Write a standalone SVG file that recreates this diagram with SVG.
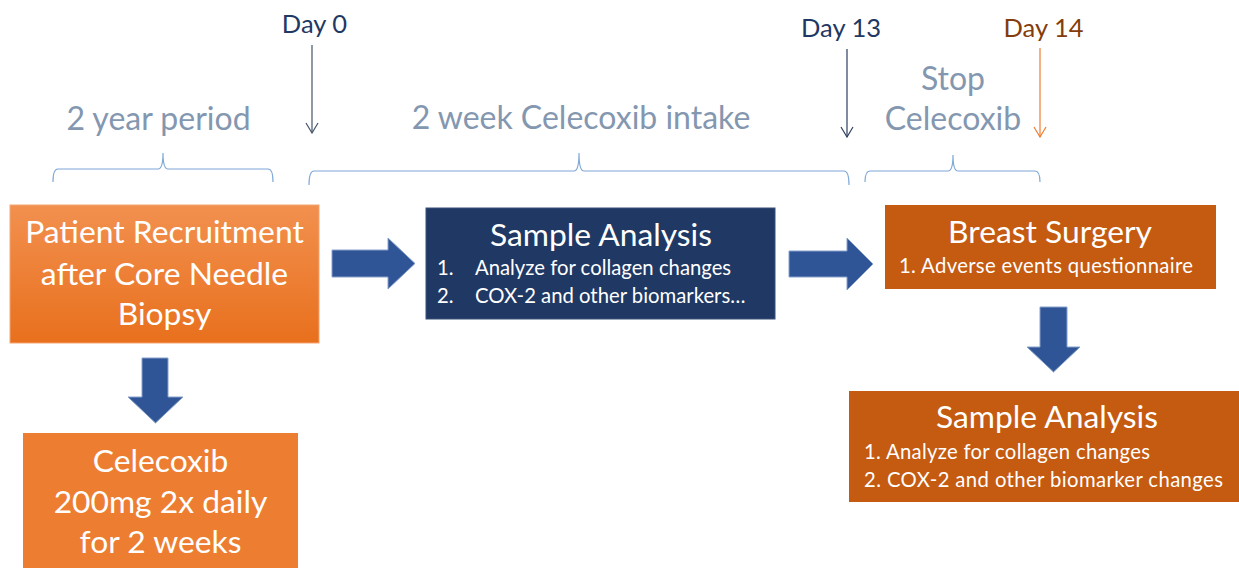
<svg xmlns="http://www.w3.org/2000/svg" width="1239" height="568" viewBox="0 0 1239 568">
<defs>
<linearGradient id="gOrange" x1="0" y1="0" x2="0" y2="1">
<stop offset="0" stop-color="#F2904F"/>
<stop offset="1" stop-color="#E8701D"/>
</linearGradient>
<marker id="mNavy" viewBox="0 0 12 14" refX="11" refY="7" markerWidth="12" markerHeight="14" markerUnits="userSpaceOnUse" orient="auto">
<path d="M1 1 L11 7 L1 13" fill="none" stroke="#44546A" stroke-width="1.2"/>
</marker>
<marker id="mDark" viewBox="0 0 12 14" refX="11" refY="7" markerWidth="12" markerHeight="14" markerUnits="userSpaceOnUse" orient="auto">
<path d="M1 1 L11 7 L1 13" fill="none" stroke="#2E3F60" stroke-width="1.2"/>
</marker>
<marker id="mOrange" viewBox="0 0 12 14" refX="11" refY="7" markerWidth="12" markerHeight="14" markerUnits="userSpaceOnUse" orient="auto">
<path d="M1 1 L11 7 L1 13" fill="none" stroke="#ED7D31" stroke-width="1.2"/>
</marker>
</defs>
<style>
text { font-family: Lato, "Open Sans", "Liberation Sans", sans-serif; }
.title { font-size: 31.8px; fill: #FFFFFF; text-anchor: middle; }
.item { font-size: 20.3px; fill: #FFFFFF; }
.period { font-size: 32px; fill: #8497B0; text-anchor: middle; }
.day { font-size: 25.5px; text-anchor: middle; }
.brace { fill: none; stroke: #7EA8D8; stroke-width: 1.2; }
.barrow { fill: #2F5597; stroke: #86A0CB; stroke-width: 1; }
.dline { fill: none; stroke-width: 1.2; }
</style>

<g id="timeline-labels">
<text class="day" x="314.5" y="33" fill="#1F3864">Day 0</text>
<text class="day" x="841" y="37" fill="#1F3864">Day 13</text>
<text class="day" x="1043.5" y="37" fill="#843C0C">Day 14</text>
<text class="period" x="158.5" y="130">2 year period</text>
<text class="period" x="581" y="129">2 week Celecoxib intake</text>
<text class="period" x="953" y="90">Stop</text>
<text class="period" x="953" y="130">Celecoxib</text>
</g>

<g id="braces">
<path class="brace" d="M53 182 Q53 169 58 169 L158 169 Q163 169 163 153 Q163 169 168 169 L268 169 Q273 169 273 182"/>
<path class="brace" d="M309 185 Q309 171 314 171 L574 171 Q579 171 579 153 Q579 171 584 171 L844 171 Q849 171 849 185"/>
<path class="brace" d="M865 182 Q865 171 870 171 L948 171 Q953 171 953 155 Q953 171 958 171 L1035 171 Q1040 171 1040 182"/>
</g>

<g id="connectors">
<line class="dline" x1="312" y1="45" x2="312" y2="133" stroke="#44546A" marker-end="url(#mNavy)"/>
<line class="dline" x1="847" y1="49" x2="847" y2="137" stroke="#2E3F60" marker-end="url(#mDark)"/>
<line class="dline" x1="1040" y1="48" x2="1040" y2="137" stroke="#ED7D31" marker-end="url(#mOrange)"/>
<path class="barrow" d="M332 250 L388 250 L388 238 L415 263.5 L388 289 L388 277 L332 277 Z"/>
<path class="barrow" d="M789 251 L847 251 L847 238 L873 264 L847 290 L847 277 L789 277 Z"/>
<path class="barrow" d="M142 358 L168 358 L168 397 L183 397 L155.5 423 L128 397 L142 397 Z"/>
<path class="barrow" d="M1040 307 L1067 307 L1067 347 L1080 347 L1053.5 372 L1027 347 L1040 347 Z"/>
</g>

<g id="node-recruitment">
<rect x="10" y="205" width="309" height="138" fill="url(#gOrange)" stroke="#F4A573" stroke-width="1"/>
<text class="title" x="164.5" y="243">Patient Recruitment</text>
<text class="title" x="164.5" y="285">after Core Needle</text>
<text class="title" x="164.5" y="325">Biopsy</text>
</g>

<g id="node-celecoxib">
<rect x="23" y="433" width="275" height="140" fill="#ED7D31"/>
<text class="title" x="160.5" y="472">Celecoxib</text>
<text class="title" x="160.5" y="513">200mg 2x daily</text>
<text class="title" x="160.5" y="553">for 2 weeks</text>
</g>

<g id="node-sample-analysis-1">
<rect x="426" y="208" width="349" height="111" fill="#203864" stroke="#3B5078" stroke-width="1"/>
<text class="title" x="601" y="246">Sample Analysis</text>
<text class="item" x="437" y="275">1.</text>
<text class="item" x="475" y="275">Analyze for collagen changes</text>
<text class="item" x="437" y="303">2.</text>
<text class="item" x="475" y="303">COX-2 and other biomarkers…</text>
</g>

<g id="node-breast-surgery">
<rect x="885" y="205" width="331" height="84" fill="#C55A11"/>
<text class="title" x="1050" y="243">Breast Surgery</text>
<text class="item" x="899" y="273" textLength="294" lengthAdjust="spacing">1. Adverse events questionnaire</text>
</g>

<g id="node-sample-analysis-2">
<rect x="849" y="391" width="395" height="111" fill="#C55A11"/>
<text class="title" x="1047" y="428">Sample Analysis</text>
<text class="item" x="864" y="459" textLength="286" lengthAdjust="spacing">1. Analyze for collagen changes</text>
<text class="item" x="864" y="487" textLength="359" lengthAdjust="spacing">2. COX-2 and other biomarker changes</text>
</g>
</svg>
